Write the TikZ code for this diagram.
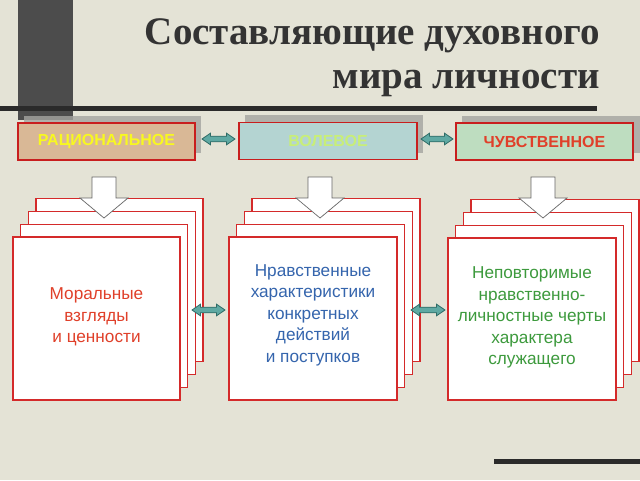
\documentclass[tikz,border=0pt]{standalone}
\usepackage{fontspec}
\setmainfont{Liberation Serif}
\newfontfamily\arialf{Liberation Sans}
\definecolor{bgc}{HTML}{E4E3D6}
\definecolor{barc}{HTML}{4C4C4C}
\definecolor{linec}{HTML}{2A2A2A}
\definecolor{titlec}{HTML}{333333}
\definecolor{hred}{HTML}{C81E1E}
\definecolor{cred}{HTML}{D42A2A}
\definecolor{tanf}{HTML}{D9B896}
\definecolor{bluef}{HTML}{B4D4D2}
\definecolor{greenf}{HTML}{BEDDC0}
\definecolor{yellowt}{HTML}{F8F820}
\definecolor{limet}{HTML}{C8EE78}
\definecolor{redt}{HTML}{E0402A}
\definecolor{bluet}{HTML}{3565AD}
\definecolor{greent}{HTML}{3D9A3D}
\definecolor{arrf}{HTML}{5FA9A3}
\definecolor{arrd}{HTML}{2E6B66}
\definecolor{shadc}{HTML}{A4A4A0}
\newcommand{\cardstack}[4]{%
  \foreach \k in {3,2,1,0}{%
    \draw[card] ({#1+7.7*\k},{#2-12.8*\k}) rectangle ({#3+7.7*\k},{#4-12.8*\k});
  }}
\newcommand{\dblarr}[3]{%
  \draw[arrstyle] (#1,#3) -- ({#1+8.5},{#3-5.8}) -- ({#1+8.5},{#3-2.8}) -- ({#2-8.5},{#3-2.8}) -- ({#2-8.5},{#3-5.8}) -- (#2,#3) -- ({#2-8.5},{#3+5.8}) -- ({#2-8.5},{#3+2.8}) -- ({#1+8.5},{#3+2.8}) -- ({#1+8.5},{#3+5.8}) -- cycle;}
\newcommand{\downarr}[1]{%
  \draw[downstyle] ({#1-12},177) -- ({#1+12},177) -- ({#1+12},198) -- ({#1+24},198) -- (#1,218) -- ({#1-24},198) -- ({#1-12},198) -- cycle;}
\begin{document}
\begin{tikzpicture}[x=1pt,y=-1pt,
  hdr/.style={draw=hred, line width=1.4pt, minimum width=177pt, minimum height=37pt, inner sep=0pt, font=\arialf\bfseries\fontsize{16}{19}\selectfont},
  card/.style={draw=cred, fill=white, line width=1.3pt},
  cardtext/.style={align=center, font=\arialf\fontsize{17.2}{21.5}\selectfont, inner sep=0pt},
  arrstyle/.style={fill=arrf, draw=arrd, line width=0.8pt, line join=miter},
  downstyle/.style={fill=white, draw=gray!80!black, line width=0.7pt},
  ttl/.style={font=\bfseries\fontsize{39}{44}\selectfont, text=titlec, inner sep=0pt}]
\useasboundingbox (0,0) rectangle (640,480);
\fill[bgc] (0,0) rectangle (640,480);
% decorative bars
\fill[barc] (18,0) rectangle (73,120);
\fill[linec] (0,106) rectangle (597,111);
\fill[linec] (494,459) rectangle (640,463.5);
% title
\node[ttl, anchor=base east] (t1) at (600,44) {Составляющие духовного};
\node[ttl, anchor=base east] (t2) at (600,88) {мира личности};
% header shadows
\fill[shadc, opacity=0.8] (24,116) rectangle (201,153);
\fill[shadc, opacity=0.8] (245,115) rectangle (423,153);
\fill[shadc, opacity=0.8] (462,116) rectangle (640,153);
% headers
\node[hdr, fill=tanf, text=yellowt] (h1) at (106.5,141.5) {РАЦИОНАЛЬНОЕ};
\node[hdr, fill=bluef, text=limet, minimum width=178pt] (h2) at (328,141) {ВОЛЕВОЕ};
\node[hdr, fill=greenf, text=redt] (h3) at (544.5,141.5) {ЧУВСТВЕННОЕ};
\dblarr{202}{235}{139}
\dblarr{421}{453}{139}
% card stacks
\cardstack{13}{237}{180}{400}
\cardstack{229}{237}{397}{400}
\cardstack{448}{238}{616}{400}
\node[cardtext, text=redt] (c1) at (96.5,317) {Моральные\\взгляды\\и ценности};
\node[cardtext, text=bluet] (c2) at (313,315) {Нравственные\\характеристики\\конкретных\\действий\\и поступков};
\node[cardtext, text=greent] (c3) at (532,317.5) {Неповторимые\\нравственно-\\личностные черты\\характера\\служащего};
% down arrows
\downarr{104}
\downarr{320}
\downarr{543}
% double arrows between stacks
\dblarr{192}{225}{310}
\dblarr{411}{445}{310}
\end{tikzpicture}
\end{document}
